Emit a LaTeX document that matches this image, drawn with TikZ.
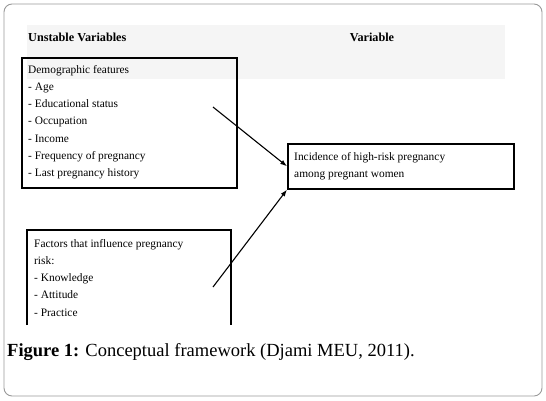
\documentclass[tikz,border=0pt]{standalone}
\usepackage{fontspec}
\setmainfont{Liberation Serif}
\usetikzlibrary{positioning,arrows.meta}

\begin{document}
\begin{tikzpicture}[x=1pt,y=-1pt,
  frame/.style={draw,line width=1.6pt,inner sep=0pt,anchor=north west},
  txt/.style={anchor=north west,align=left,inner sep=0pt,font=\fontsize{11.4}{17.2}\selectfont},
  head/.style={font=\bfseries\fontsize{12.2}{14}\selectfont,inner sep=0pt},
  link/.style={-{Latex[length=2.4mm,width=1.7mm]},line width=1.1pt}]
\useasboundingbox (0,0) rectangle (546,400);
% outer frame and header band
\draw[gray!80,line width=0.9pt,rounded corners=8pt] (4,4) rectangle (542,396);
\fill[gray!8] (27,25) rectangle (505,79);
\node[head,anchor=west] (hleft) at (28,37) {Unstable Variables};
\node[head] (hright) at (372,37) {Variable};
% demographic box
\node[frame,minimum width=215pt,minimum height=130pt] (demobox) at (21,57) {};
\node[txt] (demo) at (28,65) {Demographic features\\- Age\\- Educational status\\- Occupation\\- Income\\- Frequency of pregnancy\\- Last pregnancy history};
% outcome box
\node[frame,minimum width=226pt,minimum height=45pt] (outcome) at (287,143) {};
\node[txt] (outtxt) at (294,152) {Incidence of high-risk pregnancy\\among pregnant women};
% factors box (open at the bottom)
\draw[line width=1.3pt] (27,325) -- (27,230) -- (231,230) -- (231,325);
\node[txt] (factors) at (34,239) {Factors that influence pregnancy\\risk:\\- Knowledge\\- Attitude\\- Practice};
% arrows
\coordinate (s1) at (213,107);
\coordinate (s2) at (213,287);
\draw[link] (s1) -- (outcome.west);
\draw[link] (s2) -- (outcome.south west);
% caption
\node[anchor=west,inner sep=0pt,font=\fontsize{18.5}{20}\selectfont] (cap) at (7,352) {\textbf{Figure 1:} Conceptual framework (Djami MEU, 2011).};
\end{tikzpicture}
\end{document}
